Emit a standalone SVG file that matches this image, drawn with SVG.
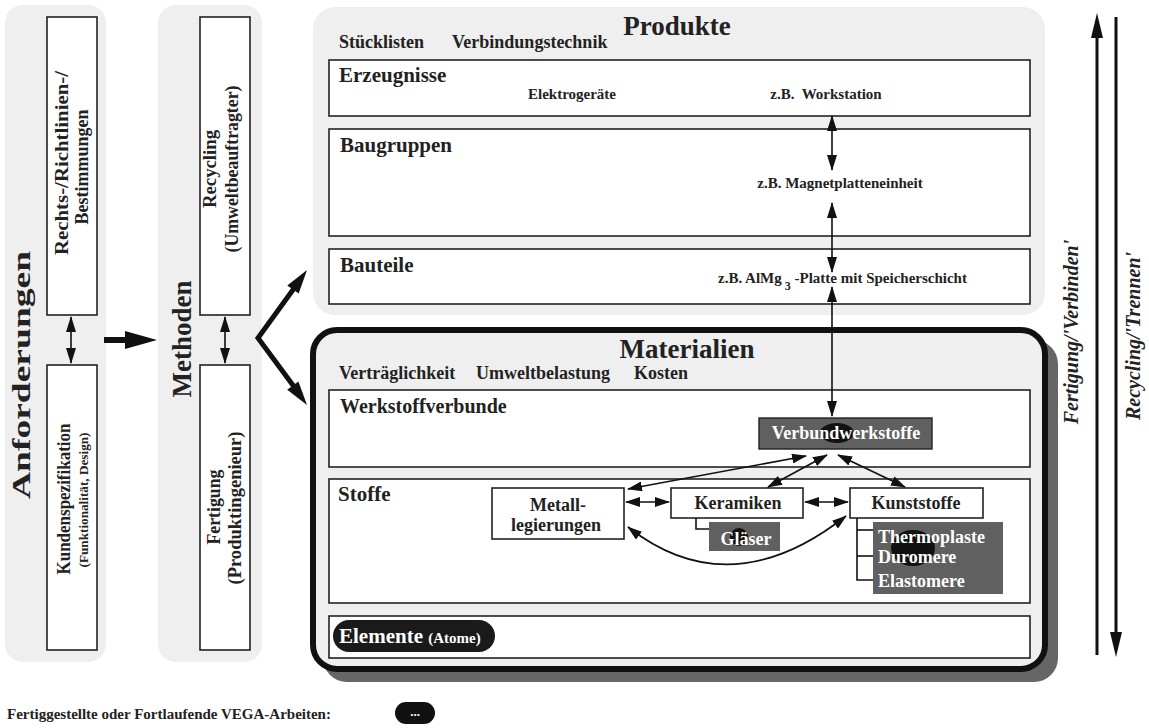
<svg xmlns="http://www.w3.org/2000/svg" width="1149" height="728" viewBox="0 0 1149 728">
<defs>
<style>
text{font-family:"Liberation Serif","Times New Roman",serif;font-weight:bold;fill:#222}
.panel{fill:#efefef}
.box{fill:#fff;stroke:#222;stroke-width:1.6}
.ln{stroke:#111;stroke-width:1.6;fill:none}
.mid{text-anchor:middle}
.it{font-style:italic}
</style>
<marker id="a" markerUnits="userSpaceOnUse" markerWidth="16" markerHeight="10" viewBox="0 0 16 10" refX="15" refY="5" orient="auto-start-reverse"><path d="M0,0 L16,5 L0,10 z" fill="#111"/></marker>
<marker id="b" markerUnits="userSpaceOnUse" markerWidth="15" markerHeight="10" viewBox="0 0 15 10" refX="14" refY="5" orient="auto-start-reverse"><path d="M0,0 L15,5 L0,10 z" fill="#111"/></marker>
</defs>

<g id="anforderungen">
<rect class="panel" x="5" y="5" width="101" height="657" rx="18"/>
<text class="mid" font-size="26" textLength="248" lengthAdjust="spacingAndGlyphs" transform="translate(30,375) rotate(-90)">Anforderungen</text>
</g>
<g id="rechts">
<rect class="box" x="47" y="17" width="50" height="298"/>
<text class="mid" font-size="18" textLength="184" lengthAdjust="spacingAndGlyphs" transform="translate(68,163) rotate(-90)">Rechts-/Richtlinien-/</text>
<text class="mid" font-size="18" textLength="115" lengthAdjust="spacingAndGlyphs" transform="translate(88,167) rotate(-90)">Bestimmungen</text>
</g>
<g id="kunden">
<rect class="box" x="47" y="365" width="50" height="285"/>
<text class="mid" font-size="18" textLength="151" lengthAdjust="spacingAndGlyphs" transform="translate(70,499) rotate(-90)">Kundenspezifikation</text>
<text class="mid" font-size="13" textLength="135" lengthAdjust="spacingAndGlyphs" transform="translate(88,500) rotate(-90)">(Funktionalität, Design)</text>
</g>

<g id="methoden">
<rect class="panel" x="158" y="5" width="104" height="657" rx="18"/>
<text class="mid" font-size="27" textLength="117" lengthAdjust="spacingAndGlyphs" transform="translate(191,339) rotate(-90)">Methoden</text>
</g>
<g id="recycling">
<rect class="box" x="200" y="17" width="50" height="298"/>
<text class="mid" font-size="18" textLength="78" lengthAdjust="spacingAndGlyphs" transform="translate(216,169) rotate(-90)">Recycling</text>
<text class="mid" font-size="18" textLength="167" lengthAdjust="spacingAndGlyphs" transform="translate(238,169) rotate(-90)">(Umweltbeauftragter)</text>
</g>
<g id="fertigung">
<rect class="box" x="200" y="365" width="50" height="285"/>
<text class="mid" font-size="18" textLength="75" lengthAdjust="spacingAndGlyphs" transform="translate(220,507) rotate(-90)">Fertigung</text>
<text class="mid" font-size="18" textLength="153" lengthAdjust="spacingAndGlyphs" transform="translate(241,508) rotate(-90)">(Produktingenieur)</text>
</g>

<g id="produkte">
<rect class="panel" x="313" y="7" width="732" height="308" rx="22"/>
<text class="mid" font-size="27" x="677" y="35">Produkte</text>
<text font-size="18" x="339" y="48">Stücklisten</text>
<text font-size="18" x="452" y="48">Verbindungstechnik</text>
</g>
<g id="erzeugnisse">
<rect class="box" x="329" y="60" width="701" height="56"/>
<text font-size="21" x="339" y="82">Erzeugnisse</text>
<text class="mid" font-size="15" x="572" y="99">Elektrogeräte</text>
<text class="mid" font-size="15" x="826" y="99" xml:space="preserve">z.B.  Workstation</text>
</g>
<g id="baugruppen">
<rect class="box" x="329" y="129" width="701" height="107"/>
<text font-size="21" x="340" y="152">Baugruppen</text>
<text class="mid" font-size="15" x="840" y="188">z.B. Magnetplatteneinheit</text>
</g>
<g id="bauteile">
<rect class="box" x="329" y="249" width="701" height="55"/>
<text font-size="21" x="340" y="272">Bauteile</text>
<text font-size="15" x="718" y="283">z.B. AlMg<tspan dx="3" dy="7" font-size="12">3</tspan><tspan dy="-7"> -Platte mit Speicherschicht</tspan></text>
</g>

<g id="materialien">
<rect x="323" y="340" width="735" height="342" rx="24" fill="#666"/>
<rect x="313" y="330" width="732" height="339" rx="24" fill="#efefef" stroke="#111" stroke-width="6"/>
<text class="mid" font-size="27" x="687" y="358">Materialien</text>
<text font-size="18" x="339" y="379">Verträglichkeit</text>
<text font-size="18" x="476" y="379">Umweltbelastung</text>
<text font-size="18" x="634" y="379">Kosten</text>
</g>
<g id="werkstoffverbunde">
<rect class="box" x="329" y="390" width="701" height="77"/>
<text font-size="20" x="340" y="413">Werkstoffverbunde</text>
</g>
<g id="verbundwerkstoffe">
<rect x="759" y="418" width="173" height="31" fill="#606060" stroke="#222" stroke-width="1.4"/>
<ellipse cx="837" cy="433" rx="17" ry="10" fill="#111"/>
<text class="mid" font-size="18" x="846" y="439" style="fill:#fff">Verbundwerkstoffe</text>
</g>
<g id="stoffe">
<rect class="box" x="329" y="479" width="701" height="124"/>
<text font-size="21" x="338" y="501">Stoffe</text>
</g>
<g id="metall">
<rect class="box" x="492" y="488" width="132" height="51"/>
<text class="mid" font-size="18" x="558" y="511">Metall-</text>
<text class="mid" font-size="18" x="556" y="531">legierungen</text>
</g>
<g id="keramiken">
<rect class="box" x="671" y="488" width="132" height="30"/>
<text class="mid" font-size="18" x="738" y="509">Keramiken</text>
</g>
<g id="glaeser">
<rect x="709" y="522" width="71" height="29" fill="#606060"/>
<circle cx="739" cy="537" r="9" fill="#111"/>
<text class="mid" font-size="18" x="746" y="545" style="fill:#fff">Gläser</text>
</g>
<g id="kunststoffe">
<rect class="box" x="850" y="488" width="133" height="30"/>
<text class="mid" font-size="18" x="916" y="509">Kunststoffe</text>
</g>
<g id="kunststoffarten">
<rect x="873" y="522" width="130" height="72" fill="#606060"/>
<ellipse cx="913" cy="548" rx="22" ry="18" fill="#111"/>
<text font-size="18" x="878" y="543" style="fill:#fff">Thermoplaste</text>
<text font-size="18" x="878" y="563" style="fill:#fff">Duromere</text>
<text font-size="18" x="878" y="587" style="fill:#fff">Elastomere</text>
</g>
<g id="elemente">
<rect class="box" x="329" y="616" width="701" height="42"/>
<rect x="333" y="620" width="162" height="32" rx="16" fill="#1a1a1a"/>
<text font-size="21" x="339" y="643" style="fill:#fff">Elemente <tspan font-size="15">(Atome)</tspan></text>
</g>

<g id="axes">
<text class="mid it" font-size="20" transform="translate(1078,332) rotate(-90)">Fertigung/'Verbinden'</text>
<text class="mid it" font-size="20" transform="translate(1140,336) rotate(-90)">Recycling/'Trennen'</text>
</g>

<g id="legend">
<text font-size="15" x="7" y="719">Fertiggestellte oder Fortlaufende VEGA-Arbeiten:</text>
<rect x="395" y="702" width="40" height="22" rx="11" fill="#111"/>
<text class="mid" font-size="13" x="415" y="716" style="fill:#fff">...</text>
</g>

<g id="connectors">
<line class="ln" x1="71" y1="317" x2="71" y2="363" stroke-width="2" marker-start="url(#a)" marker-end="url(#a)"/>
<line class="ln" x1="225" y1="317" x2="225" y2="363" stroke-width="2" marker-start="url(#a)" marker-end="url(#a)"/>
<polygon points="104,337 125,337 125,331 157,340 125,349 125,343 104,343" fill="#111"/>
<path d="M295,287 L258,338 L295,388" fill="none" stroke="#111" stroke-width="5"/>
<polygon points="307,270 298.7,293.6 287.3,285.4" fill="#111"/>
<polygon points="307,405 298.4,381.5 287.2,389.7" fill="#111"/>
<line class="ln" x1="832" y1="116" x2="832" y2="170" marker-start="url(#a)" marker-end="url(#a)"/>
<line class="ln" x1="832" y1="203" x2="832" y2="272" marker-start="url(#a)" marker-end="url(#a)"/>
<line class="ln" x1="832" y1="287" x2="832" y2="416" marker-start="url(#a)" marker-end="url(#a)"/>
<line class="ln" x1="626" y1="502" x2="669" y2="502" marker-start="url(#b)" marker-end="url(#b)"/>
<line class="ln" x1="805" y1="502" x2="848" y2="502" marker-start="url(#b)" marker-end="url(#b)"/>
<line class="ln" x1="628" y1="489" x2="806" y2="456" marker-start="url(#b)" marker-end="url(#b)"/>
<line class="ln" x1="768" y1="487" x2="827" y2="455" marker-start="url(#b)" marker-end="url(#b)"/>
<line class="ln" x1="838" y1="455" x2="905" y2="487" marker-start="url(#b)" marker-end="url(#b)"/>
<path class="ln" d="M628,527 Q730,607 846,516" marker-start="url(#b)" marker-end="url(#b)"/>
<polyline class="ln" points="696,518 696,529 709,529"/>
<polyline class="ln" points="857,518 857,580 873,580"/>
<line class="ln" x1="857" y1="530" x2="873" y2="530"/>
<line class="ln" x1="857" y1="556" x2="873" y2="556"/>
<line x1="1097" y1="655" x2="1097" y2="36" stroke="#111" stroke-width="3"/>
<polygon points="1097,13 1091,38 1103,38" fill="#111"/>
<line x1="1116" y1="17" x2="1116" y2="634" stroke="#111" stroke-width="3"/>
<polygon points="1116,657 1110,632 1122,632" fill="#111"/>
</g>
</svg>
